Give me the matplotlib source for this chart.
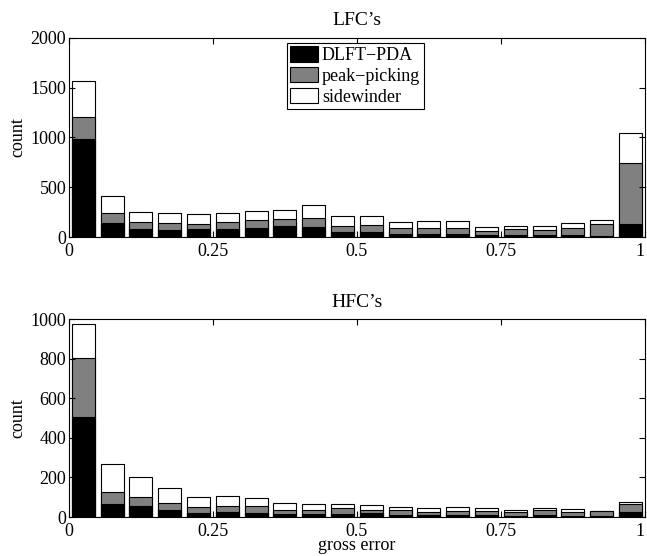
import matplotlib.pyplot as plt
import numpy as np

plt.rcParams['font.family'] = ['Liberation Serif', 'DejaVu Serif']
plt.rcParams['font.size'] = 13

# bin centres of the gross error histogram (20 bins over [0, 1])
centres = np.arange(0.025, 1.0, 0.05)

# LFC's: visible heights of each series
lfc_dlft = [985, 141, 84, 70, 77, 84, 94, 107, 97, 47, 50, 27, 27, 30, 23, 20, 20, 23, 13, 127]
lfc_peak = [1209, 241, 147, 144, 131, 154, 174, 184, 191, 114, 121, 87, 94, 94, 64, 77, 74, 90, 131, 744]
lfc_side = [1571, 412, 251, 245, 231, 241, 261, 275, 325, 208, 208, 151, 164, 161, 104, 114, 111, 141, 174, 1045]

# HFC's
hfc_dlft = [504, 67, 54, 37, 20, 27, 22, 13, 15, 15, 20, 8, 8, 8, 12, 7, 8, 7, 5, 27]
hfc_peak = [802, 126, 101, 72, 52, 55, 55, 37, 37, 44, 37, 34, 24, 29, 32, 25, 34, 25, 30, 66]
hfc_side = [973, 267, 203, 146, 99, 104, 94, 71, 64, 67, 61, 49, 44, 50, 44, 34, 44, 40, 32, 77]

labels = ['DLFT\u2212PDA', 'peak\u2212picking', 'sidewinder']
xticks = [0, 0.25, 0.5, 0.75, 1]
xticklabels = ['0', '0.25', '0.5', '0.75', '1']

fig = plt.figure(figsize=(6.47, 5.56), dpi=100)
ax1 = fig.add_axes([0.1066, 0.5737, 0.890, 0.358])
ax2 = fig.add_axes([0.1066, 0.0701, 0.890, 0.356])


def draw(ax, dlft, peak, side, ymax, yticks, title):
    w = 0.04
    hs = ax.bar(centres, side, width=w, color='white', edgecolor='black', linewidth=0.8)
    hp = ax.bar(centres, peak, width=w, color='#808080', edgecolor='black', linewidth=0.8)
    hd = ax.bar(centres, dlft, width=w, color='black', edgecolor='black', linewidth=0.8)
    ax.set_xlim(0, 1)
    ax.set_ylim(0, ymax)
    ax.set_xticks(xticks)
    ax.set_xticklabels(xticklabels)
    ax.get_xticklabels()[-1].set_horizontalalignment('right')
    ax.set_yticks(yticks)
    ax.tick_params(direction='in', top=True, right=True, length=4, labelsize=13)
    ax.tick_params(axis='y', pad=2)
    ax.tick_params(axis='x', pad=4)
    ax.set_ylabel('count', labelpad=3)
    ax.set_title(title, fontsize=14, pad=9)
    return hd, hp, hs


hd, hp, hs = draw(ax1, lfc_dlft, lfc_peak, lfc_side, 2000, [0, 500, 1000, 1500, 2000], "LFC\u2019s")
draw(ax2, hfc_dlft, hfc_peak, hfc_side, 1000, [0, 200, 400, 600, 800, 1000], "HFC\u2019s")
ax2.set_xlabel('gross error', labelpad=-1.5)

leg = ax1.legend([hd, hp, hs], labels, loc='upper left', bbox_to_anchor=(0.378, 0.977),
                 fancybox=False, framealpha=1, edgecolor='black', fontsize=13,
                 handlelength=1.55, handleheight=0.95, handletextpad=0.2,
                 borderpad=0.2, labelspacing=0.15, borderaxespad=0)
leg.get_frame().set_linewidth(0.8)

plt.savefig('out.png')
